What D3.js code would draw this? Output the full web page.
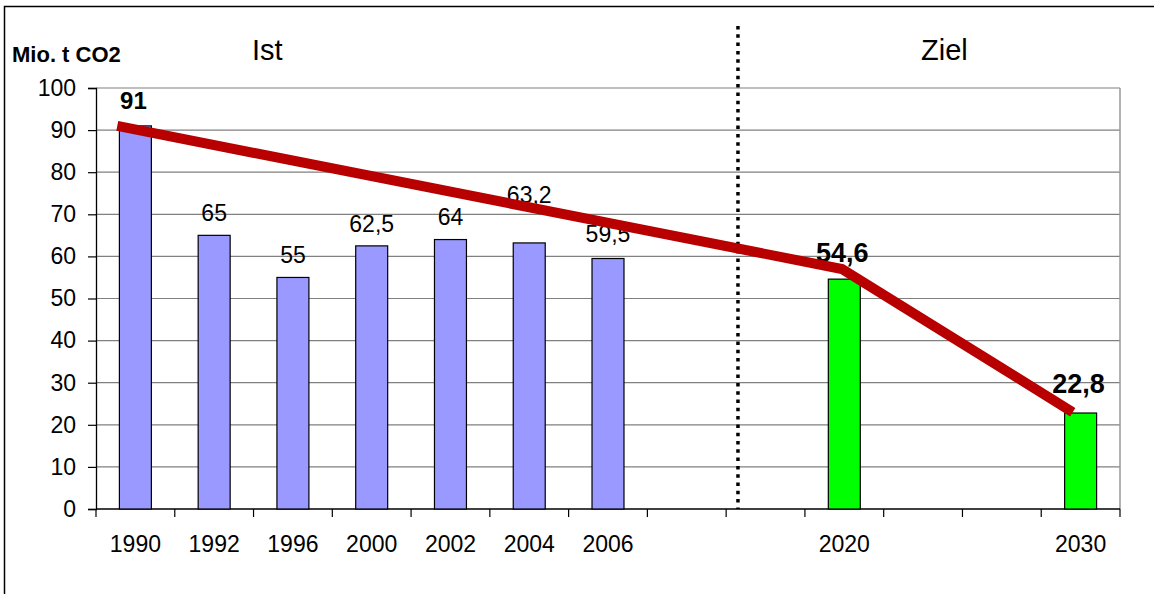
<!DOCTYPE html>
<html>
<head>
<meta charset="utf-8">
<script src="https://cdn.jsdelivr.net/npm/d3@7"></script>
<style>
  html, body { margin: 0; padding: 0; background: #fff; }
  svg { display: block; }
  text { font-family: Arial, "Liberation Sans", sans-serif; }
</style>
</head>
<body>
<svg id="chart" width="1154" height="594"></svg>
<script>
// ---- data ----
const categories = ["1990","1992","1996","2000","2002","2004","2006","","","2020","","","2030"];
const istValues  = [91, 65, 55, 62.5, 64, 63.2, 59.5, null, null, null, null, null, null];
const zielValues = [null, null, null, null, null, null, null, null, null, 54.6, null, null, 22.8];
const istLabels  = ["91","65","55","62,5","64","63,2","59,5"];
const zielLabels = {9: "54,6", 12: "22,8"};
const trendIndex  = [0, 9, 12];
const trendValues = [91, 57, 23];
const yTicks = [0,10,20,30,40,50,60,70,80,90,100];
const yTitle = "Mio. t CO2";
const sectionLabels = ["Ist", "Ziel"];

// ---- layout ----
const svg = d3.select("#chart");
const L = 96, R = 1120, T = 88, B = 509;
const idx = categories.map((d, i) => i);
const x = d3.scaleBand().domain(idx).range([L, R]).paddingInner(0.594).paddingOuter(0.297);
const y = d3.scaleLinear().domain([0, 100]).range([B, T]);
const step = x.step();
const cx = i => x(i) + x.bandwidth() / 2;

// outer frame
svg.append("rect").attr("x", 4.5).attr("y", 6.5).attr("width", 1300).attr("height", 1000)
  .attr("fill", "none").attr("stroke", "#000").attr("stroke-width", 1.5);

// gridlines
svg.append("g").selectAll("line").data(yTicks.filter(d => d > 0)).join("line")
  .attr("x1", L).attr("x2", R).attr("y1", d => y(d)).attr("y2", d => y(d))
  .attr("stroke", "#808080").attr("stroke-width", 1.2);
// right border
svg.append("line").attr("x1", R).attr("x2", R).attr("y1", T).attr("y2", B)
  .attr("stroke", "#999").attr("stroke-width", 1.5);

// y axis
const yAxis = d3.axisLeft(y).tickValues(yTicks).tickSize(8).tickPadding(12);
const gy = svg.append("g").attr("transform", `translate(${L},0)`).call(yAxis);
gy.select(".domain").attr("stroke", "#000").attr("stroke-width", 1.3);
gy.selectAll(".tick line").attr("stroke", "#000").attr("stroke-width", 1.2);
gy.selectAll(".tick text").attr("font-size", 23).attr("fill", "#000")
  .attr("font-family", "Arial, 'Liberation Sans', sans-serif");

// x axis line and ticks at slot boundaries
svg.append("line").attr("x1", L).attr("x2", R).attr("y1", B).attr("y2", B)
  .attr("stroke", "#000").attr("stroke-width", 1.3);
svg.append("g").selectAll("line").data(d3.range(categories.length + 1)).join("line")
  .attr("x1", i => L + i * step).attr("x2", i => L + i * step)
  .attr("y1", B).attr("y2", B + 8).attr("stroke", "#000").attr("stroke-width", 1.2);
svg.append("g").selectAll("text").data(idx.filter(i => categories[i] !== "")).join("text")
  .attr("x", i => cx(i)).attr("y", 552).attr("text-anchor", "middle")
  .attr("font-size", 23).attr("fill", "#000").text(i => categories[i]);

// bars
svg.append("g").selectAll("rect").data(idx.filter(i => istValues[i] != null)).join("rect")
  .attr("x", i => x(i)).attr("width", x.bandwidth())
  .attr("y", i => y(istValues[i])).attr("height", i => B - y(istValues[i]))
  .attr("fill", "#9999FF").attr("stroke", "#000").attr("stroke-width", 1.2);
svg.append("g").selectAll("rect").data(idx.filter(i => zielValues[i] != null)).join("rect")
  .attr("x", i => x(i)).attr("width", x.bandwidth())
  .attr("y", i => y(zielValues[i])).attr("height", i => B - y(zielValues[i]))
  .attr("fill", "#00FF00").attr("stroke", "#000").attr("stroke-width", 1.2);

// dotted separator
const sepX = L + 8.15 * step;
svg.append("line").attr("x1", sepX).attr("x2", sepX).attr("y1", 26).attr("y2", B)
  .attr("stroke", "#000").attr("stroke-width", 3.5).attr("stroke-dasharray", "3.5,4.8");

// value labels
const istDy = [17, 14, 14, 14, 15, 40, 17];
svg.append("g").selectAll("text").data(istLabels.map((t, i) => i)).join("text")
  .attr("x", i => cx(i) - (i === 0 ? 2 : 0)).attr("y", i => y(istValues[i]) - istDy[i])
  .attr("text-anchor", "middle")
  .attr("font-size", i => i === 0 ? 24 : 23)
  .attr("font-weight", i => i === 0 ? "bold" : "normal")
  .attr("fill", "#000").text(i => istLabels[i]);
const zielDy = {9: 17, 12: 20};
svg.append("g").selectAll("text").data(Object.keys(zielLabels).map(Number)).join("text")
  .attr("x", i => cx(i) - 2).attr("y", i => y(zielValues[i]) - zielDy[i])
  .attr("text-anchor", "middle").attr("font-size", 27).attr("font-weight", "bold")
  .attr("fill", "#000").text(i => zielLabels[i]);

// trend line
const trendShift = [-0.23, -0.03, -0.1];
const line = d3.line().x(d => cx(d.i) + d.s * step).y(d => y(d.v));
const trendData = trendIndex.map((i, k) => ({i, v: trendValues[k], s: trendShift[k]}));
svg.append("path").datum(trendData).attr("d", line)
  .attr("fill", "none").attr("stroke", "#B80000").attr("stroke-width", 10)
  .attr("stroke-linejoin", "miter").attr("stroke-linecap", "butt");

// titles
svg.append("text").attr("x", 12).attr("y", 62).attr("font-size", 22).attr("font-weight", "bold")
  .attr("fill", "#000").text(yTitle);
svg.append("text").attr("x", 252).attr("y", 60).attr("font-size", 29).attr("fill", "#000").text(sectionLabels[0]);
svg.append("text").attr("x", 921).attr("y", 60).attr("font-size", 29).attr("fill", "#000").text(sectionLabels[1]);
</script>
</body>
</html>
